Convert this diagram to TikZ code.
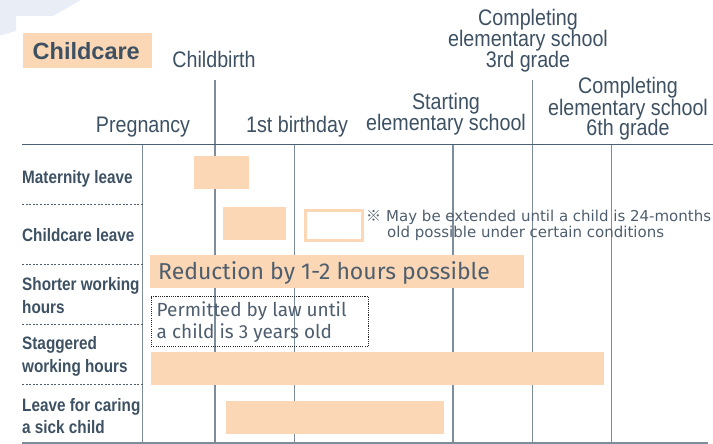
\documentclass[tikz,border=0pt]{standalone}
\usepackage{fontspec}
\setmainfont{Liberation Sans}
\newfontfamily\hdrfont[FakeStretch=0.875]{Liberation Sans}
\newfontfamily\lblfont[FakeStretch=0.85]{Liberation Sans}
\newfontfamily\notefont{DejaVu Sans}
\newfontfamily\barfont{Fira Sans}
\newfontfamily\cjkfont{Noto Sans CJK JP}
\definecolor{peach}{HTML}{FBD7B5}
\definecolor{ink}{HTML}{3D5163}
\definecolor{gridline}{HTML}{7D8D9B}
\definecolor{topline}{HTML}{4B6072}
\definecolor{notegray}{HTML}{4E5E6E}
\definecolor{blob}{HTML}{E9EDF6}
\begin{document}
\begin{tikzpicture}[x=1pt,y=-1pt,
  hdr/.style={font=\hdrfont\fontsize{22.5}{22}\selectfont, text=ink, anchor=base, inner sep=0pt},
  lbl/.style={font=\lblfont\bfseries\fontsize{18}{20}\selectfont, text=ink, anchor=base west, inner sep=0pt},
  bar/.style={fill=peach, draw=none, anchor=north west, inner sep=0pt},
  vline/.style={draw=gridline, line width=1.5pt},
  rowsep/.style={draw=topline, line width=0.8pt, dash pattern=on 2pt off 1.6pt},
  note/.style={font=\notefont\fontsize{15}{16}\selectfont, text=notegray, anchor=base west, inner sep=0pt},
  boxtext/.style={font=\barfont\fontsize{19}{20}\selectfont, text=notegray, anchor=base west, inner sep=0pt}
]
\useasboundingbox (0,0) rectangle (713,444);
% background blob
\fill[blob] (0,0) -- (81,0) -- (53,16) -- (16,16) -- (16,31) -- (0,35.5) -- cycle;

% grid coordinates
\coordinate (tl) at (22,144.5);
\coordinate (tr) at (713,144.5);
\coordinate (bl) at (22,443);
\coordinate (br) at (708,443);
\foreach \n/\x/\t in {a/142.5/144.5, b/215/80, c/294.5/144.5, d/453/144.5, e/532.5/80, f/611.5/144.5}{
  \coordinate (v\n top) at (\x,\t);
  \coordinate (v\n bot) at (\x,443);
  \draw[vline] (v\n top) -- (v\n bot);
}
\draw[draw=topline, line width=1.5pt] (tl) -- (tr);
\draw[draw=gridline, line width=2pt] (bl) -- (br);
\foreach \y [count=\i] in {204.5,264.5,324.5,384.5}{
  \coordinate (s\i l) at (22,\y);
  \coordinate (s\i r) at (142.5,\y);
  \draw[rowsep] (s\i l) -- (s\i r);
}

% title
\node[fill=peach, minimum width=129pt, minimum height=35pt, inner sep=0pt, anchor=north west] (titlebox) at (23,33) {};
\node[font=\bfseries\fontsize{23.5}{24}\selectfont, text=ink, anchor=base west, inner sep=0pt] (title) at (32.5,59.3) {Childcare};

% headers
\node[hdr] (birth) at (214,67.5) {Childbirth};
\node[hdr] (preg) at (143,132) {Pregnancy};
\node[hdr] (bday) at (297,132) {1st birthday};
\node[hdr] (start1) at (446,110) {Starting};
\node[hdr] (start2) at (446,131) {elementary school};
\node[hdr] (thr1) at (528,25.5) {Completing};
\node[hdr] (thr2) at (528,47) {elementary school};
\node[hdr] (thr3) at (528,67.5) {3rd grade};
\node[hdr] (six1) at (628,93.5) {Completing};
\node[hdr] (six2) at (628,115) {elementary school};
\node[hdr] (six3) at (628,135.5) {6th grade};

% row labels
\node[lbl] (r1) at (22,183.3) {Maternity leave};
\node[lbl] (r2) at (22,241.7) {Childcare leave};
\node[lbl] (r3a) at (22,290) {Shorter working};
\node[lbl] (r3b) at (22,313.3) {hours};
\node[lbl] (r4a) at (22,349) {Staggered};
\node[lbl] (r4b) at (22,372.7) {working hours};
\node[lbl] (r5a) at (22,411.7) {Leave for caring};
\node[lbl] (r5b) at (22,433.3) {a sick child};

% bars
\node[bar, minimum width=55pt, minimum height=33pt] (matbar) at (194,156) {};
\node[bar, minimum width=63pt, minimum height=32.5pt] (ccbar) at (223,207) {};
\node[draw=peach, fill=white, line width=3pt, minimum width=57pt, minimum height=30pt, inner sep=0pt, anchor=north west] (extbox) at (303.5,208.5) {};
\node[bar, minimum width=374pt, minimum height=33pt] (redbar) at (150,255) {};
\node[font=\barfont\fontsize{23}{24}\selectfont, text=notegray, anchor=base west, inner sep=0pt] (redtext) at (158,279.3) {Reduction by 1-2 hours possible};
\node[draw=black!85, line width=1.2pt, dash pattern=on 1.1pt off 1.1pt, minimum width=217.5pt, minimum height=50pt, inner sep=0pt, anchor=north west] (lawbox) at (150.5,296) {};
\node[boxtext] (law1) at (156.5,316.7) {Permitted by law until};
\node[boxtext] (law2) at (156.5,338.3) {a child is 3 years old};
\node[bar, minimum width=453pt, minimum height=33pt] (stagbar) at (150.5,352) {};
\node[bar, minimum width=218pt, minimum height=33pt] (sickbar) at (226,401) {};

% note
\node[note] (note1) at (366,221.7) {{\cjkfont\fontsize{15}{16}\selectfont ※}\hspace{5pt}May be extended until a child is 24-months};
\node[note] (note2) at (387,237) {old possible under certain conditions};
\end{tikzpicture}
\end{document}
